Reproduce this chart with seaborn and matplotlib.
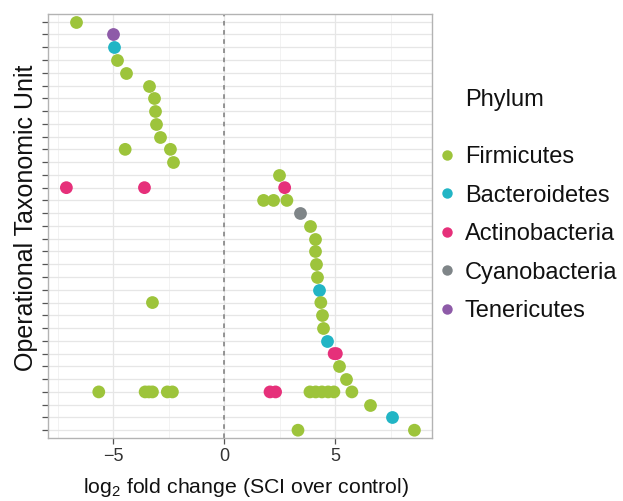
import matplotlib
matplotlib.use("Agg")
import matplotlib.pyplot as plt
from matplotlib.lines import Line2D
from matplotlib.ticker import MultipleLocator
import seaborn as sns
import pandas as pd

# ---- data ----
otus = [f"OTU{i}" for i in range(1, 34)]  # top to bottom

point_otu = [1, 2, 3, 4, 5, 6, 7, 8, 9, 10, 11, 11, 12, 13, 14, 14, 14,
             15, 15, 15, 16, 17, 18, 19, 20, 21, 22, 23, 23, 24, 25, 26, 27, 27,
             28, 29,
             30, 30, 30, 30, 30, 30, 30, 30, 30, 30, 30, 30, 30, 30,
             31, 32, 33, 33]
point_lfc = [-6.68, -5.01, -4.98, -4.82, -4.43, -3.41, -3.18, -3.14, -3.06, -2.88,
             -4.47, -2.43, -2.31, 2.46, -7.12, -3.60, 2.72,
             1.77, 2.22, 2.82, 3.41, 3.84, 4.10, 4.10, 4.13, 4.17, 4.28, -3.24, 4.35,
             4.40, 4.44, 4.61, 4.95, 5.05, 5.17, 5.48,
             -5.66, -3.57, -3.40, -3.24, -2.57, -2.34, 2.06, 2.31, 3.86, 4.12, 4.40, 4.68, 4.94, 5.75,
             6.58, 7.58, 3.32, 8.57]
point_phylum = ["Firmicutes", "Tenericutes", "Bacteroidetes", "Firmicutes", "Firmicutes",
                "Firmicutes", "Firmicutes", "Firmicutes", "Firmicutes", "Firmicutes",
                "Firmicutes", "Firmicutes", "Firmicutes", "Firmicutes",
                "Actinobacteria", "Actinobacteria", "Actinobacteria",
                "Firmicutes", "Firmicutes", "Firmicutes", "Cyanobacteria",
                "Firmicutes", "Firmicutes", "Firmicutes", "Firmicutes", "Firmicutes",
                "Bacteroidetes", "Firmicutes", "Firmicutes", "Firmicutes", "Firmicutes",
                "Bacteroidetes", "Actinobacteria", "Actinobacteria", "Firmicutes", "Firmicutes",
                "Firmicutes", "Firmicutes", "Firmicutes", "Firmicutes", "Firmicutes", "Firmicutes",
                "Actinobacteria", "Actinobacteria", "Firmicutes", "Firmicutes", "Firmicutes",
                "Firmicutes", "Firmicutes", "Firmicutes",
                "Firmicutes", "Bacteroidetes", "Firmicutes", "Firmicutes"]

phyla = ["Firmicutes", "Bacteroidetes", "Actinobacteria", "Cyanobacteria", "Tenericutes"]
colors = ["#9DC43B", "#22B5C5", "#E6307A", "#7F8588", "#8E5BA8"]

df = pd.DataFrame({
    "OTU": [otus[i - 1] for i in point_otu],
    "lfc": point_lfc,
    "Phylum": point_phylum,
})

# ---- style ----
sns.set_theme(style="whitegrid")
plt.rcParams["font.family"] = ["Liberation Sans", "DejaVu Sans"]
plt.rcParams["mathtext.fontset"] = "custom"
plt.rcParams["mathtext.rm"] = "Liberation Sans"
plt.rcParams["mathtext.it"] = "Liberation Sans:italic"

fig = plt.figure(figsize=(6.23, 5.01), dpi=100)
ax = fig.add_axes([0.077, 0.126, 0.616, 0.846])
ax.set_facecolor("white")

sns.stripplot(data=df, x="lfc", y="OTU", hue="Phylum", order=otus,
              hue_order=phyla, palette=colors, jitter=False, size=9.2,
              linewidth=0, legend=False, ax=ax, zorder=3)

ax.axvline(0, color="#7a7a7a", linestyle=(0, (3, 3)), linewidth=1.1, zorder=2)

ax.set_xlim(-7.95, 9.35)
ax.set_ylim(len(otus) - 1 + 0.6, -0.6)
ax.xaxis.set_major_locator(MultipleLocator(5))
ax.xaxis.set_minor_locator(MultipleLocator(2.5))
ax.set_yticks(range(len(otus)))
ax.set_yticklabels([])

ax.grid(which="major", color="#E6E6E6", linewidth=0.9)
ax.grid(which="minor", axis="x", color="#F0F0F0", linewidth=0.6)
ax.set_axisbelow(True)
for s in ax.spines.values():
    s.set_color("#B3B3B3")
    s.set_linewidth(1.0)

ax.tick_params(axis="both", which="major", length=4, width=0.9, color="#555555",
               labelsize=13, labelcolor="#333333", bottom=True, left=True)
ax.tick_params(axis="x", which="minor", length=0)
ax.tick_params(axis="x", pad=3)

ax.set_xlabel(r"log$_2$ fold change (SCI over control)", fontsize=15.3,
              color="#111111")
ax.xaxis.set_label_coords(0.517, -0.117)
ax.xaxis.label.set_va("center")
ax.set_ylabel("Operational Taxonomic Unit", fontsize=18, color="#111111")
ax.yaxis.set_label_coords(-0.058, 0.519)
ax.yaxis.label.set_va("center")

fig.text(465 / 623, 1 - 100 / 501, "Phylum", fontsize=17, color="#111111",
         ha="left", va="center")

handles = [Line2D([0], [0], marker="o", linestyle="", markersize=7.5,
                  markerfacecolor=c, markeredgewidth=0) for c in colors]
leg = fig.legend(handles, phyla, loc="upper left",
                 bbox_to_anchor=(437.5 / 623, 1 - 146 / 501), frameon=False,
                 fontsize=17, handletextpad=0.36, labelspacing=0.70,
                 handlelength=0.8, borderaxespad=0, borderpad=0)
for t in leg.get_texts():
    t.set_color("#111111")

fig.savefig("out.png", dpi=100)
